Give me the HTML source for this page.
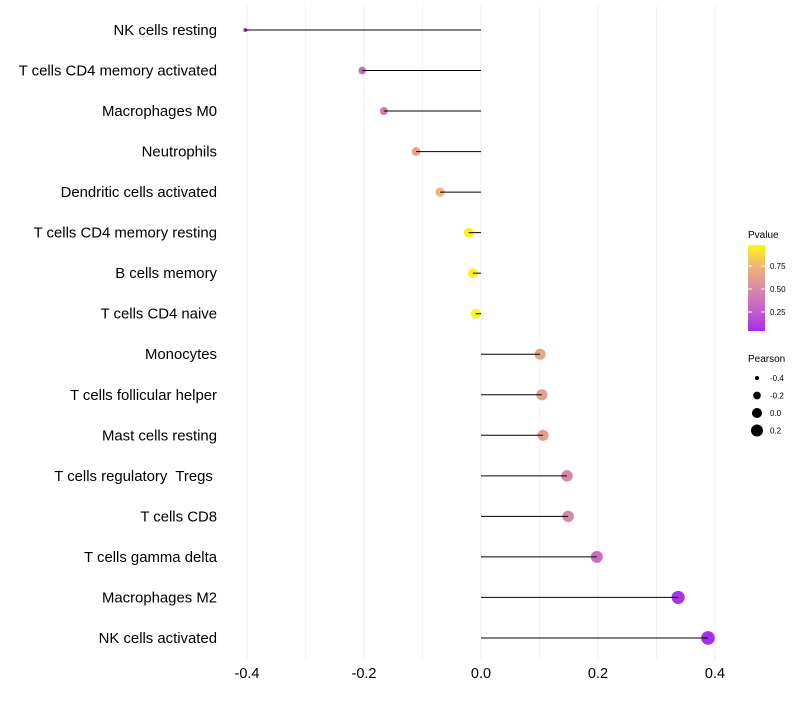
<!DOCTYPE html>
<html><head><meta charset="utf-8"><style>
body{margin:0;background:#fff;font-family:"Liberation Sans",sans-serif}
text{white-space:pre}
</style></head><body>
<svg id="c" width="800" height="700" xmlns="http://www.w3.org/2000/svg"></svg>
<script>
const categories=["NK cells resting","T cells CD4 memory activated","Macrophages M0","Neutrophils","Dendritic cells activated","T cells CD4 memory resting","B cells memory","T cells CD4 naive","Monocytes","T cells follicular helper","Mast cells resting","T cells regulatory  Tregs ","T cells CD8","T cells gamma delta","Macrophages M2","NK cells activated"];
const pearson=[-0.403,-0.203,-0.166,-0.111,-0.070,-0.021,-0.014,-0.009,0.101,0.104,0.106,0.147,0.149,0.198,0.337,0.388];
const pvalue=[0.06,0.30,0.40,0.65,0.75,0.95,0.95,0.97,0.65,0.62,0.62,0.48,0.48,0.33,0.08,0.05];
const xTicks=[-0.4,-0.2,0.0,0.2,0.4];
const legendP=[0.75,0.50,0.25];
const legendS=[-0.4,-0.2,0.0,0.2];
const NS="http://www.w3.org/2000/svg";
const svg=document.getElementById('c');
const xS=v=>481+v*585;
const yS=i=>30+i*40.53;
const rS=v=>Math.sqrt(Math.max(1,25.3+53.3*v));
const stops=[[0,[160,32,240]],[0.25,[195,95,205]],[0.5,[216,140,165]],[0.75,[240,182,120]],[1,[255,255,0]]];
function col(p){for(let i=1;i<stops.length;i++){if(p<=stops[i][0]){const a=stops[i-1],b=stops[i],t=(p-a[0])/(b[0]-a[0]);return 'rgb('+a[1].map((c,k)=>Math.round(c+(b[1][k]-c)*t)).join(',')+')';}}return 'rgb(255,255,0)';}
function mk(tag,attrs,parent){const e=document.createElementNS(NS,tag);for(const k in attrs)e.setAttribute(k,attrs[k]);(parent||svg).appendChild(e);return e;}
for(let v=-0.4;v<=0.41;v+=0.1){const g=mk('line',{x1:xS(v),x2:xS(v),y1:5,y2:660,stroke:'#ececec','stroke-width':Math.abs(Math.round(v*10))%2===0?1:0.6});

}
xTicks.forEach(t=>{const e=mk('text',{x:xS(t),y:678,'text-anchor':'middle','font-size':14.5,fill:'#000'});e.textContent=t.toFixed(1);

});
categories.forEach((c,i)=>{const y=yS(i);
const t=mk('text',{x:217,y:y+5,'text-anchor':'end','font-size':14.9,fill:'#000'});t.textContent=c;


const d=mk('circle',{cx:xS(pearson[i]),cy:y,r:rS(pearson[i]),fill:col(pvalue[i])});


const l2=mk('line',{x1:xS(0),x2:xS(pearson[i]),y1:y,y2:y,stroke:'#000','stroke-width':1});


});
const lt=mk('text',{x:748,y:238,'font-size':10});lt.textContent='Pvalue';


const defs=mk('defs',{});const gr=mk('linearGradient',{id:'pg',x1:0,y1:1,x2:0,y2:0},defs);
for(let i=0;i<=10;i++){mk('stop',{offset:i/10,'stop-color':col(0.04+0.93*i/10)},gr);}
const bar=mk('rect',{x:748,y:245,width:17,height:86,fill:'url(#pg)'});


const pY=p=>335-p*92;
legendP.forEach(p=>{mk('line',{x1:748,x2:752,y1:pY(p),y2:pY(p),stroke:'#fff'});mk('line',{x1:761,x2:765,y1:pY(p),y2:pY(p),stroke:'#fff'});
const e=mk('text',{x:770,y:pY(p)+3,'font-size':8});e.textContent=p.toFixed(2);

});
const st=mk('text',{x:748,y:362,'font-size':10});st.textContent='Pearson';


legendS.forEach((s,i)=>{const y=378+i*17.5;
const c=mk('circle',{cx:757,cy:y,r:rS(s),fill:'#000'});


const e=mk('text',{x:770,y:y+3,'font-size':8});e.textContent=s.toFixed(1);

});
</script>
</body></html>
